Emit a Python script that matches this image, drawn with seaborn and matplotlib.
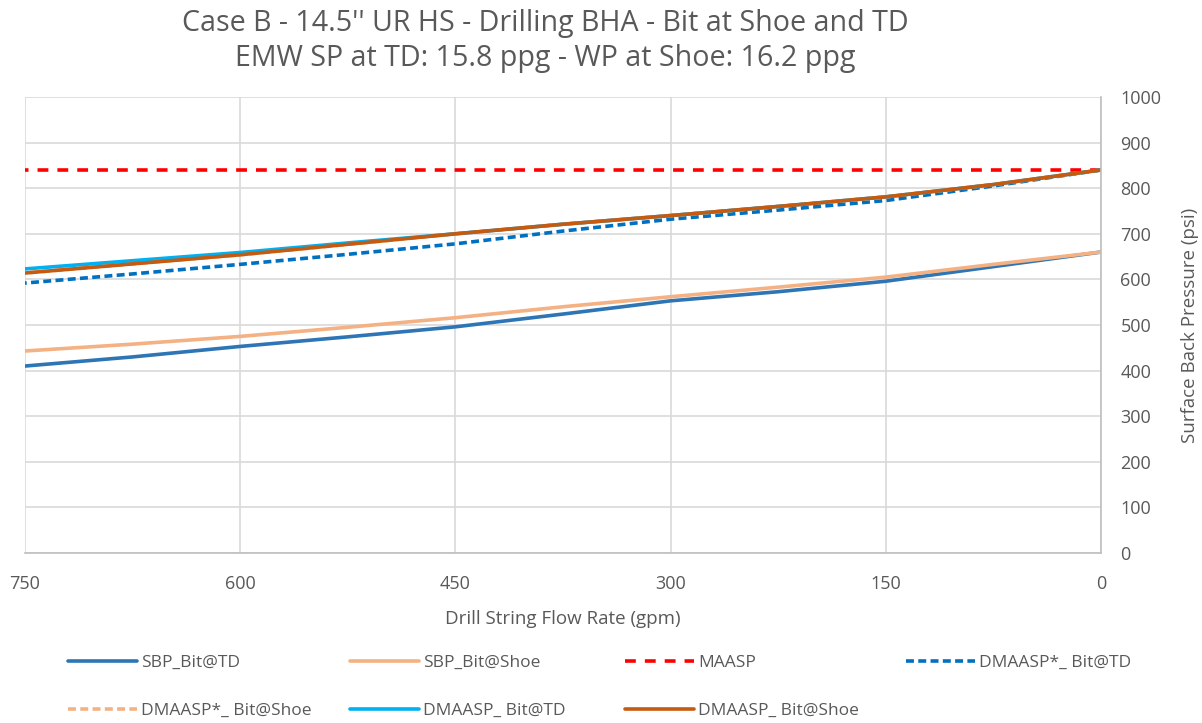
import matplotlib
matplotlib.use("Agg")
import matplotlib.pyplot as plt
import seaborn as sns
import pandas as pd

sns.set_theme(style="white")
plt.rcParams['font.family'] = ['Open Sans', 'DejaVu Sans']

flow = [750, 675, 600, 525, 450, 375, 300, 225, 150, 75, 0]
sbp_td = [410, 430, 453, 474, 496, 524, 553, 573, 596, 628, 660]
sbp_shoe = [443, 458, 475, 495, 516, 540, 562, 583, 605, 633, 660]
maasp = [840] * 11
dmaasp_star_td = [592, 612, 633, 655, 678, 706, 732, 752, 773, 805, 840]
dmaasp_star_shoe = [614, 634, 654, 677, 700, 721, 740, 760, 781, 808, 840]
dmaasp_td = [623, 641, 659, 680, 700, 721, 740, 760, 781, 808, 840]
dmaasp_shoe = [614, 634, 654, 677, 700, 721, 740, 760, 781, 808, 840]

gray = '#595959'
series = [
    ("SBP_Bit@TD", sbp_td, '#2E75B6', '-'),
    ("SBP_Bit@Shoe", sbp_shoe, '#F4B183', '-'),
    ("MAASP", maasp, '#FF0000', (0, (3, 2.5))),
    ("DMAASP*_ Bit@TD", dmaasp_star_td, '#0070C0', (0, (2.2, 1.2))),
    ("DMAASP*_ Bit@Shoe", dmaasp_star_shoe, '#F4B183', (0, (2.2, 1.2))),
    ("DMAASP_ Bit@TD", dmaasp_td, '#00B0F0', '-'),
    ("DMAASP_ Bit@Shoe", dmaasp_shoe, '#C55A11', '-'),
]

W, H = 1202, 723
fig = plt.figure(figsize=(W / 100, H / 100), dpi=100)
ax = fig.add_axes([25/W, 1 - 553/H, (1101-25)/W, (553-97)/H])

for name, vals, col, ls in series:
    df = pd.DataFrame({"flow": flow, "p": vals})
    sns.lineplot(data=df, x="flow", y="p", ax=ax, color=col, linestyle=ls,
                 linewidth=2.6, label=name, legend=False)

ax.set_xlim(750, 0)
ax.set_ylim(0, 1000)
ax.set_xticks([750, 600, 450, 300, 150, 0])
ax.set_yticks(range(0, 1001, 100))
ax.yaxis.tick_right()
ax.yaxis.set_label_position("right")
ax.grid(True, color='#D9D9D9', linewidth=1.2)
ax.set_axisbelow(True)
for s in ['left', 'top']:
    ax.spines[s].set_visible(False)
for s in ['right', 'bottom']:
    ax.spines[s].set_color('#BFBFBF')
    ax.spines[s].set_linewidth(1.2)
ax.tick_params(axis='x', length=0, labelsize=13, colors=gray, pad=16)
ax.tick_params(axis='y', length=0, labelsize=13, colors=gray, pad=14)
ax.set_xlabel("Drill String Flow Rate (gpm)", fontsize=13.5, color=gray, labelpad=12)
ax.set_ylabel("Surface Back Pressure (psi)", fontsize=13.5, color=gray, labelpad=14)

fig.text(0.454, 0.988, "Case B - 14.5'' UR HS - Drilling BHA - Bit at Shoe and TD\nEMW SP at TD: 15.8 ppg - WP at Shoe: 16.2 ppg",
         ha='center', va='top', fontsize=20.6, color=gray, linespacing=1.3)

handles, labels = ax.get_legend_handles_labels()
xs = [68, 350, 625, 906]
ys = [663, 711]
for i, (h, l) in enumerate(zip(handles, labels)):
    x = xs[i % 4]
    y = ys[i // 4]
    leg = fig.legend([h], [l], loc='center left', bbox_to_anchor=(x / W, 1 - y / H),
                     frameon=False, fontsize=12.5, handlelength=4.0,
                     handletextpad=0.2, borderpad=0, borderaxespad=0)
    for t in leg.get_texts():
        t.set_color(gray)

fig.savefig("out.png", dpi=100)
